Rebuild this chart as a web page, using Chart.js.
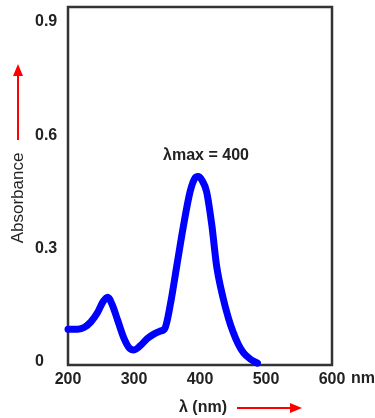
<!DOCTYPE html>
<html>
<head>
<meta charset="utf-8">
<style>
  html, body { margin: 0; padding: 0; background: #ffffff; }
  #c { display: block; }
</style>
<script src="https://cdn.jsdelivr.net/npm/chart.js@4/dist/chart.umd.min.js"></script>
</head>
<body>
<canvas id="c" width="375" height="418"></canvas>
<script>
// ---- data ----
const wavelengths = [200, 215, 225, 235, 245, 253, 260, 267, 275, 285, 293, 300, 310, 320, 330, 340, 347, 355, 365, 375, 385, 392, 397, 403, 410, 418, 425, 435, 443, 450, 458, 466, 476, 487];
const absorbance  = [0.085, 0.085, 0.09, 0.105, 0.13, 0.158, 0.17, 0.15, 0.11, 0.06, 0.035, 0.03, 0.042, 0.06, 0.072, 0.08, 0.088, 0.15, 0.255, 0.36, 0.45, 0.485, 0.49, 0.48, 0.45, 0.36, 0.255, 0.168, 0.115, 0.078, 0.045, 0.022, 0.006, -0.005];
const yTickValues = [0, 0.3, 0.6, 0.9];
const xTickValues = [200, 300, 400, 500, 600];
const yAxisTitle = 'Absorbance';
const xAxisTitle = 'λ (nm)';
const xUnit = 'nm';
const peakLabel = 'λmax = 400';

const points = wavelengths.map((w, i) => ({ x: w, y: absorbance[i] }));
const FONT = '"Liberation Sans", Arial, Helvetica, sans-serif';

function arrow(ctx, x1, y1, x2, y2) {
  const ang = Math.atan2(y2 - y1, x2 - x1);
  const headLen = 12, headHalf = 5;
  const bx = x2 - Math.cos(ang) * headLen, by = y2 - Math.sin(ang) * headLen;
  ctx.save();
  ctx.strokeStyle = '#ff0000';
  ctx.fillStyle = '#ff0000';
  ctx.lineWidth = 2;
  ctx.beginPath();
  ctx.moveTo(x1, y1);
  ctx.lineTo(bx, by);
  ctx.stroke();
  ctx.beginPath();
  ctx.moveTo(x2, y2);
  ctx.lineTo(bx + Math.sin(ang) * headHalf, by - Math.cos(ang) * headHalf);
  ctx.lineTo(bx - Math.sin(ang) * headHalf, by + Math.cos(ang) * headHalf);
  ctx.closePath();
  ctx.fill();
  ctx.restore();
}

const decorations = {
  id: 'decorations',
  beforeDatasetsDraw(chart) {
    const { ctx, chartArea: a } = chart;
    ctx.save();
    ctx.strokeStyle = '#333333';
    ctx.lineWidth = 2.5;
    ctx.strokeRect(a.left, a.top, a.right - a.left, a.bottom - a.top);
    ctx.restore();
  },
  afterDraw(chart) {
    const { ctx, scales } = chart;
    ctx.save();
    ctx.fillStyle = '#222222';
    // unit after the last x tick
    ctx.font = 'bold 16px ' + FONT;
    ctx.textAlign = 'left';
    ctx.textBaseline = 'middle';
    ctx.fillText(xUnit, scales.x.getPixelForValue(600) + 19, 379);
    // peak annotation
    ctx.font = 'bold 16px ' + FONT;
    ctx.textAlign = 'center';
    ctx.fillText(peakLabel, scales.x.getPixelForValue(400) + 6, 156);
    // x axis title
    ctx.fillText(xAxisTitle, 203, 408);
    // y axis title
    ctx.font = '17px ' + FONT;
    ctx.save();
    ctx.translate(18, 198);
    ctx.rotate(-Math.PI / 2);
    ctx.fillText(yAxisTitle, 0, 0);
    ctx.restore();
    ctx.restore();
    arrow(ctx, 18, 140, 18, 64);
    arrow(ctx, 237, 408, 302, 408);
  }
};

new Chart(document.getElementById('c'), {
  type: 'line',
  data: {
    datasets: [{
      data: points,
      borderColor: '#0000ff',
      borderWidth: 7,
      borderCapStyle: 'round',
      borderJoinStyle: 'round',
      pointRadius: 0,
      fill: false,
      cubicInterpolationMode: 'monotone',
      clip: 6
    }]
  },
  options: {
    responsive: false,
    devicePixelRatio: 1,
    animation: false,
    events: [],
    layout: { padding: { left: 35, top: 7, right: 43, bottom: 0 } },
    plugins: { legend: { display: false }, tooltip: { enabled: false } },
    scales: {
      x: {
        type: 'linear',
        position: 'bottom',
        min: 200,
        max: 600,
        grid: { display: false },
        border: { display: false },
        afterBuildTicks: s => { s.ticks = xTickValues.map(v => ({ value: v })); },
        afterFit: s => { s.height = 53; s.paddingLeft = 0; s.paddingRight = 0; },
        ticks: {
          padding: -3,
          color: '#222222',
          font: { family: FONT, size: 16, weight: 'bold' },
          maxRotation: 0,
          autoSkip: false,
          callback: v => String(v)
        }
      },
      y: {
        type: 'linear',
        min: -0.01,
        max: 0.94,
        grid: { display: false },
        border: { display: false },
        afterBuildTicks: s => { s.ticks = yTickValues.map(v => ({ value: v })); },
        afterFit: s => { s.width = 33; s.paddingTop = 0; s.paddingBottom = 0; },
        ticks: {
          padding: 10,
          crossAlign: 'far',
          color: '#222222',
          font: { family: FONT, size: 16, weight: 'bold' },
          autoSkip: false,
          callback: v => (v === 0 ? '0' : v.toFixed(1))
        }
      }
    }
  },
  plugins: [decorations]
});
</script>
</body>
</html>
